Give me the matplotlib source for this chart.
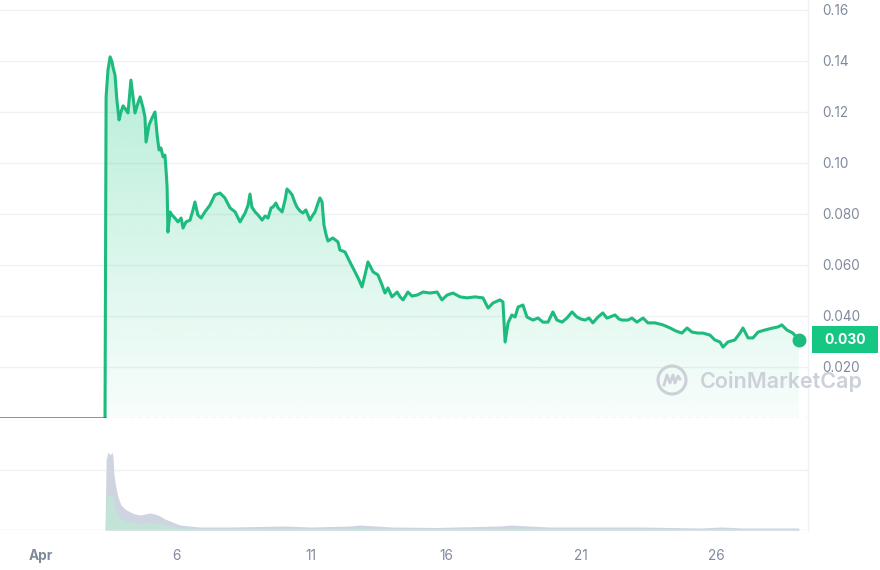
import numpy as np
import matplotlib
matplotlib.use('Agg')
import matplotlib.pyplot as plt
from matplotlib.patches import Polygon, Rectangle, Circle
from matplotlib.lines import Line2D
from matplotlib.colors import to_rgb
import matplotlib.transforms as mtransforms

plt.rcParams['font.family'] = ['Inter', 'DejaVu Sans']

# time axis: days since Apr 1 (00:00)
x_ticks = [0, 5, 10, 15, 20, 25]
x_labels = ['Apr', '6', '11', '16', '21', '26']
y_ticks = [0.02, 0.04, 0.06, 0.08, 0.10, 0.12, 0.14, 0.16]
y_labels = ['0.020', '0.040', '0.060', '0.080', '0.10', '0.12', '0.14', '0.16']

launch_t = 2.37
last_label = '0.030'

price_t = [2.37, 2.41, 2.48, 2.56, 2.63, 2.67, 2.74, 2.81, 2.89, 2.96, 3.04, 3.15, 3.22,
           3.33, 3.41, 3.48, 3.59, 3.67, 3.78, 3.85, 3.89, 4.0, 4.11, 4.22, 4.30, 4.37,
           4.44, 4.52, 4.59, 4.63, 4.67, 4.70, 4.78, 4.85, 4.96, 5.07, 5.19, 5.26, 5.37,
           5.52, 5.63, 5.70, 5.81, 5.93, 6.07, 6.26, 6.44, 6.63, 6.81, 7.0, 7.19, 7.37,
           7.56, 7.67, 7.74, 7.81, 7.93, 8.04, 8.19, 8.30, 8.41, 8.52, 8.59, 8.70, 8.78,
           8.93, 9.04, 9.11, 9.22, 9.30, 9.41, 9.48, 9.59, 9.70, 9.81, 9.96, 10.07, 10.15,
           10.26, 10.33, 10.41, 10.48, 10.56, 10.63, 10.81, 11.0, 11.07, 11.26, 11.44,
           11.63, 11.78, 11.89, 12.0, 12.11, 12.30, 12.48, 12.63, 12.74, 12.85, 13.0,
           13.19, 13.30, 13.41, 13.59, 13.74, 13.93, 14.15, 14.41, 14.67, 14.85, 15.04,
           15.26, 15.52, 15.78, 16.07, 16.37, 16.56, 16.74, 17.0, 17.11, 17.19, 17.30,
           17.44, 17.56, 17.67, 17.85, 18.0, 18.22, 18.41, 18.59, 18.78, 18.96, 19.11,
           19.30, 19.48, 19.67, 19.85, 20.0, 20.15, 20.30, 20.44, 20.63, 20.81, 20.96,
           21.07, 21.26, 21.41, 21.52, 21.74, 21.89, 22.07, 22.30, 22.48, 22.74, 23.04,
           23.30, 23.52, 23.74, 23.93, 24.11, 24.33, 24.52, 24.78, 24.96, 25.15, 25.26,
           25.44, 25.70, 25.89, 26.0, 26.19, 26.37, 26.56, 26.81, 27.11, 27.30, 27.44,
           27.63, 27.85, 28.07]
price = [0.0, 0.1259, 0.1365, 0.1416, 0.1396, 0.1373, 0.1345, 0.1247, 0.1169, 0.120,
         0.1224, 0.1208, 0.1196, 0.1325, 0.1255, 0.1196, 0.1235, 0.1259, 0.1216, 0.118,
         0.1082, 0.1149, 0.1176, 0.120, 0.111, 0.1051, 0.1059, 0.1024, 0.1031, 0.0973,
         0.0906, 0.0729, 0.0808, 0.0796, 0.0784, 0.0769, 0.0784, 0.0745, 0.0769, 0.0776,
         0.0816, 0.0847, 0.0796, 0.0784, 0.0808, 0.0835, 0.0875, 0.0882, 0.0863, 0.0824,
         0.0808, 0.0769, 0.0804, 0.0835, 0.0878, 0.0827, 0.0808, 0.0796, 0.0776, 0.0792,
         0.0784, 0.0824, 0.0827, 0.0843, 0.0824, 0.0808, 0.0855, 0.0898, 0.0886, 0.0875,
         0.0843, 0.0827, 0.0812, 0.0804, 0.0816, 0.0776, 0.0796, 0.0808, 0.0843, 0.0863,
         0.0847, 0.0757, 0.0718, 0.0694, 0.0706, 0.069, 0.0659, 0.0651, 0.0612, 0.0573,
         0.0541, 0.0514, 0.0561, 0.0612, 0.0573, 0.0561, 0.0522, 0.049, 0.051, 0.0475,
         0.0494, 0.0475, 0.0463, 0.0494, 0.0478, 0.0482, 0.0494, 0.049, 0.0494, 0.0463,
         0.0482, 0.049, 0.0475, 0.0471, 0.0475, 0.0471, 0.0431, 0.0451, 0.0463, 0.0455,
         0.0298, 0.0373, 0.0404, 0.0396, 0.0435, 0.0443, 0.0396, 0.0384, 0.0392, 0.0376,
         0.0376, 0.0416, 0.0384, 0.0376, 0.0392, 0.0416, 0.0396, 0.0388, 0.0384, 0.0392,
         0.0373, 0.0396, 0.0412, 0.0392, 0.0396, 0.0404, 0.0388, 0.0384, 0.0384, 0.0392,
         0.0376, 0.0392, 0.0373, 0.0373, 0.0365, 0.0353, 0.0341, 0.0333, 0.0353, 0.0337,
         0.0333, 0.0333, 0.0325, 0.0306, 0.0298, 0.0278, 0.0298, 0.0306, 0.0333, 0.0353,
         0.0314, 0.0314, 0.0337, 0.0345, 0.0353, 0.0357, 0.0365, 0.0345, 0.0333, 0.0306]

vol_t = [2.37, 2.41, 2.48, 2.56, 2.63, 2.67, 2.70, 2.78, 2.85, 2.96, 3.11, 3.30, 3.48,
         3.67, 3.85, 4.04, 4.22, 4.41, 4.59, 4.78, 4.96, 5.15, 5.52, 5.89, 7.0, 9.04,
         10.0, 11.44, 11.8, 13.0, 14.6, 17.0, 17.4, 18.8, 20.7, 22.2, 24.4, 25.2, 26.0,
         28.07]
vol = [0, 70, 78, 75, 78, 72, 55, 42, 33, 25, 21, 18, 16, 15, 16, 17, 16, 14, 11, 9, 7,
       5, 4, 3, 3, 4, 3, 4, 5, 3, 2.5, 4, 5, 3, 3, 3, 2, 3, 2, 2]

green = '#16c784'
line_c = '#1dbb7e'
grid_c = '#eff2f5'
text_c = '#808a9d'

fig = plt.figure(figsize=(8.8, 5.7), dpi=100)
ax = fig.add_axes([0, 1 - 418 / 570, 808 / 880, 418 / 570])
axv = fig.add_axes([0, 1 - 530 / 570, 808 / 880, 100 / 570], sharex=ax)

x_left, x_right = -1.52, 28.41
ymax = 0.1639

# gradient fill under the price line
poly = np.column_stack([price_t, price])
poly = np.vstack([[price_t[0], 0], poly, [price_t[-1], 0]])
clip = Polygon(poly, closed=True, facecolor='none', edgecolor='none')
ax.add_patch(clip)
rgba = np.zeros((256, 1, 4))
rgba[..., :3] = to_rgb(green)
rgba[:, 0, 3] = np.linspace(0.03, 0.36, 256)
im = ax.imshow(rgba, extent=[x_left, x_right, 0, ymax], origin='lower',
               aspect='auto', zorder=1, interpolation='bilinear')
im.set_clip_path(clip)

ax.plot(price_t, price, color=line_c, lw=2.2, zorder=3, solid_joinstyle='round')
ax.plot([x_left, launch_t], [0, 0], color='#6f6f6f', lw=1.8, zorder=3)
ax.plot([launch_t, x_right], [0, 0], color='#a6acb8', lw=1.0, ls=(0, (1, 5)), zorder=2)
ax.plot(price_t[-1], price[-1], 'o', color=line_c, ms=9, zorder=4)

ax.set_xlim(x_left, x_right)
ax.set_ylim(0, ymax)
ax.set_yticks(y_ticks)
ax.set_yticklabels(y_labels)
ax.yaxis.tick_right()
ax.tick_params(axis='y', length=0, pad=10, labelsize=9.8, labelcolor=text_c)
ax.tick_params(axis='x', length=0, labelbottom=False)
ax.grid(axis='y', color=grid_c, lw=1)
ax.set_axisbelow(True)
for s in ax.spines.values():
    s.set_visible(False)

# last price badge
blend = mtransforms.blended_transform_factory(ax.transAxes, ax.transData)
bh = 27 / 2550
ax.add_patch(Rectangle((1.005, price[-1] - bh / 2), 0.082, bh, transform=blend,
                       facecolor=green, edgecolor='none', clip_on=False, zorder=5))
ax.text(1.046, price[-1], last_label, transform=blend, ha='center', va='center',
        color='white', fontsize=10, fontweight='bold', zorder=6, clip_on=False)

# watermark
wm_c = '#ccd0d9'
fig.text(700 / 880, 1 - 381 / 570, 'CoinMarketCap', color=wm_c, fontsize=15.5,
         fontweight='semibold', va='center', ha='left')
fig.add_artist(Circle((672, 570 - 380), 14, transform=None, facecolor='none',
                      edgecolor=wm_c, lw=2.2))
mx = np.array([-8, -5, -2, 1, 3, 6, 8])
my = np.array([-5, 5, -3, 5, -3, 4, 1])
fig.add_artist(Line2D(672 + mx, 570 - 380 + my, transform=None, color=wm_c, lw=2.0))

# volume panel
axv.fill_between(vol_t, vol, color='#cfd5e0', lw=0, zorder=2)
axv.fill_between(vol_t, np.array(vol) * 0.45, color='#c3e3d8', lw=0, zorder=2)
axv.set_ylim(0, 100)
axv.set_yticks([60])
axv.tick_params(axis='y', length=0, labelright=False, labelleft=False)
axv.grid(axis='y', color=grid_c, lw=1)
axv.axhline(0, color='#e3e7ee', lw=1)
axv.set_xticks(x_ticks)
axv.set_xticklabels(x_labels)
axv.tick_params(axis='x', length=0, pad=14, labelsize=9.8, labelcolor=text_c)
axv.get_xticklabels()[0].set_fontweight('bold')
for s in axv.spines.values():
    s.set_visible(False)
axv.set_xlim(x_left, x_right)

# right border
fig.add_artist(Line2D([808, 808], [570 - 530, 570], transform=None, color=grid_c, lw=1))

fig.savefig('out.png', dpi=100)
